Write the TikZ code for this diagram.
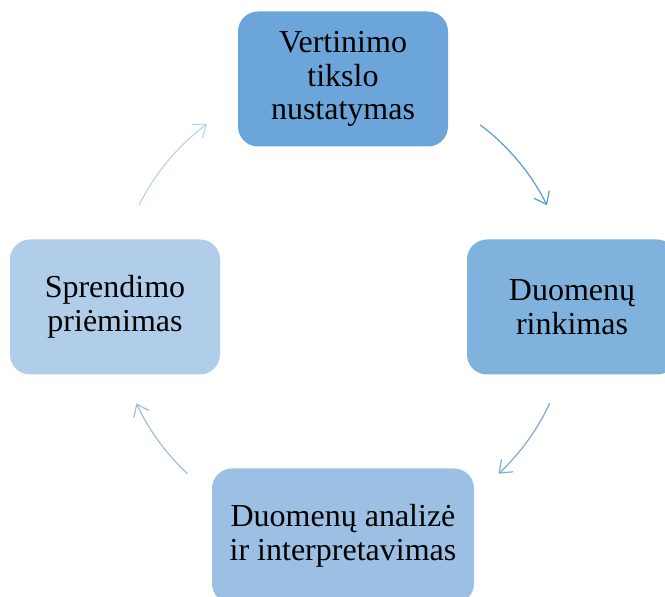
\documentclass[tikz,border=0pt]{standalone}
\usepackage{fontspec}
\setmainfont{Liberation Serif}
\usetikzlibrary{arrows.meta}
\definecolor{boxa}{RGB}{107,165,218}
\definecolor{boxb}{RGB}{127,178,221}
\definecolor{boxc}{RGB}{156,192,227}
\definecolor{boxd}{RGB}{176,206,234}
\definecolor{arra}{RGB}{91,155,213}
\definecolor{arrb}{RGB}{122,172,220}
\definecolor{arrc}{RGB}{155,190,228}
\definecolor{arrd}{RGB}{190,212,238}
\begin{document}
\begin{tikzpicture}[x=1pt,y=1pt,
  box/.style={rounded corners=20pt,minimum width=210pt,minimum height=135pt,
    align=center,inner sep=0pt,font=\fontsize{32}{33.5}\selectfont},
  arr/.style={line width=1.2pt,-{Straight Barb[length=11pt,width=17pt]}}]
\useasboundingbox (0,0) rectangle (665,597);
% cycle centre
\coordinate (ratas) at (343,290);
\node[box,fill=boxa] (tikslas) at (343,518) {Vertinimo\\tikslo\\nustatymas};
\node[box,fill=boxb] (rinkimas) at (572,290) {Duomenų\\rinkimas};
\node[box,fill=boxc,minimum width=262pt] (analize) at (343,61) {Duomenų analizė\\ir interpretavimas};
\node[box,fill=boxd] (sprendimas) at (115,290) {Sprendimo\\priėmimas};
% arrows round the cycle
\draw[arr,arra] (ratas) ++(53:228) arc[start angle=53,end angle=26.5,radius=228];
\draw[arr,arrb] (ratas) ++(-25:228) arc[start angle=-25,end angle=-47,radius=228];
\draw[arr,arrc] (ratas) ++(-133:228) arc[start angle=-133,end angle=-155,radius=228];
\draw[arr,arrd] (ratas) ++(153.5:228) arc[start angle=153.5,end angle=126.6,radius=228];
\end{tikzpicture}
\end{document}
